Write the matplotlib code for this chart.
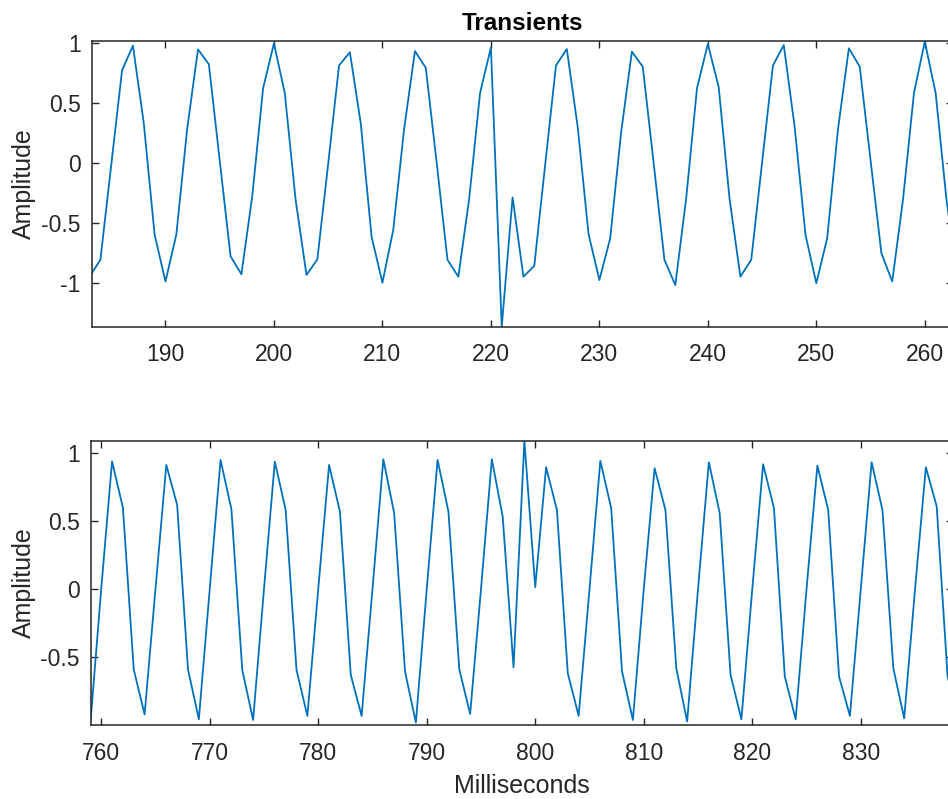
import matplotlib
matplotlib.use("Agg")
import matplotlib.pyplot as plt

plt.rcParams['font.family'] = ['Liberation Sans', 'DejaVu Sans']
plt.rcParams['axes.unicode_minus'] = False

# ---- data ----
t_top = list(range(183, 264))
amp_top = [-0.95, -0.81, -0.02, 0.77, 0.975, 0.33, -0.60, -0.99, -0.60, 0.28,
           0.944, 0.82, 0.02, -0.78, -0.93, -0.28, 0.62, 0.994, 0.58, -0.31,
           -0.936, -0.806, -0.01, 0.81, 0.92, 0.33, -0.617, -1.0, -0.56, 0.28,
           0.93, 0.79, 0.0, -0.81, -0.95, -0.30, 0.58, 0.96, -1.367, -0.29,
           -0.95, -0.86, -0.02, 0.81, 0.947, 0.30, -0.594, -0.978, -0.63, 0.25,
           0.925, 0.80, 0.0, -0.81, -1.02, -0.30, 0.62, 0.99, 0.63, -0.30,
           -0.95, -0.81, 0.0, 0.81, 0.98, 0.30, -0.60, -1.005, -0.63, 0.28,
           0.953, 0.80, 0.02, -0.755, -0.99, -0.30, 0.58, 1.01, 0.58, -0.31,
           -0.95]

t_bot = list(range(759, 840))
amp_bot = [-0.99, 0.0, 0.94, 0.60, -0.59, -0.92, 0.0, 0.914, 0.62, -0.59,
           -0.956, 0.0, 0.951, 0.588, -0.593, -0.961, 0.0, 0.939, 0.583, -0.593,
           -0.931, 0.0, 0.914, 0.571, -0.63, -0.931, 0.0, 0.956, 0.559, -0.605,
           -0.98, 0.0, 0.951, 0.571, -0.588, -0.917, 0.0, 0.956, 0.534, -0.574,
           1.09, 0.015, 0.897, 0.583, -0.618, -0.931, 0.0, 0.944, 0.596, -0.605,
           -0.961, 0.0, 0.89, 0.583, -0.581, -0.973, 0.0, 0.934, 0.559, -0.63,
           -0.956, 0.0, 0.919, 0.596, -0.642, -0.956, 0.0, 0.909, 0.583, -0.642,
           -0.931, 0.0, 0.934, 0.583, -0.581, -0.949, 0.0, 0.897, 0.608, -0.64,
           -0.95]

xticks_top = [190, 200, 210, 220, 230, 240, 250, 260]
xticks_bot = [760, 770, 780, 790, 800, 810, 820, 830]
yticks_top = [-1, -0.5, 0, 0.5, 1]
yticklabels_top = ['-1', '-0.5', '0', '0.5', '1']
yticks_bot = [-0.5, 0, 0.5, 1]
yticklabels_bot = ['-0.5', '0', '0.5', '1']

title = 'Transients'
ylabel = 'Amplitude'
xlabel = 'Milliseconds'

# ---- style ----
W, H = 948, 799
line_color = '#0072BD'
axis_color = '#262626'
tick_fs = 16.5
label_fs = 18

fig = plt.figure(figsize=(W / 100, H / 100), dpi=100)

def px_axes(left, top, right, bottom):
    return [left / W, 1 - bottom / H, (right - left) / W, (bottom - top) / H]

ax1 = fig.add_axes(px_axes(91.7, 41, 953, 326.7))
ax2 = fig.add_axes(px_axes(91.0, 441, 953, 725))

def style(ax, xt, yt, ytl):
    ax.set_xticks(xt)
    ax.set_xticklabels([str(v) for v in xt])
    ax.set_yticks(yt)
    ax.set_yticklabels(ytl)
    for s in ax.spines.values():
        s.set_color(axis_color)
        s.set_linewidth(1.1)
    ax.tick_params(axis='both', direction='in', length=5, width=1.0,
                   color=axis_color, labelcolor=axis_color,
                   labelsize=tick_fs, top=True, right=True)
    ax.tick_params(axis='y', pad=8)
    ax.tick_params(axis='x', pad=12)

ax1.plot(t_top, amp_top, color=line_color, linewidth=1.3)
ax1.set_xlim(183.2, 262.6)
ax1.set_ylim(-1.367, 1.014)
style(ax1, xticks_top, yticks_top, yticklabels_top)
ax1.set_title(title, fontsize=17.5, fontweight='bold', color='black', pad=8)

ax2.plot(t_bot, amp_bot, color=line_color, linewidth=1.3)
ax2.set_xlim(759.06, 838.5)
ax2.set_ylim(-0.998, 1.09)
style(ax2, xticks_bot, yticks_bot, yticklabels_bot)

for ax, left in ((ax1, 91.7), (ax2, 91.0)):
    ax.set_ylabel(ylabel, fontsize=label_fs, color=axis_color)
    ax.yaxis.set_label_coords((24 - left) / (953 - left), 0.5)
    ax.yaxis.label.set_verticalalignment('center')

ax2.set_xlabel(xlabel, fontsize=label_fs, color=axis_color)
ax2.xaxis.set_label_coords(0.5, (725 - 786) / (725 - 441))
ax2.xaxis.label.set_verticalalignment('center')

fig.savefig('out.png', dpi=100)
